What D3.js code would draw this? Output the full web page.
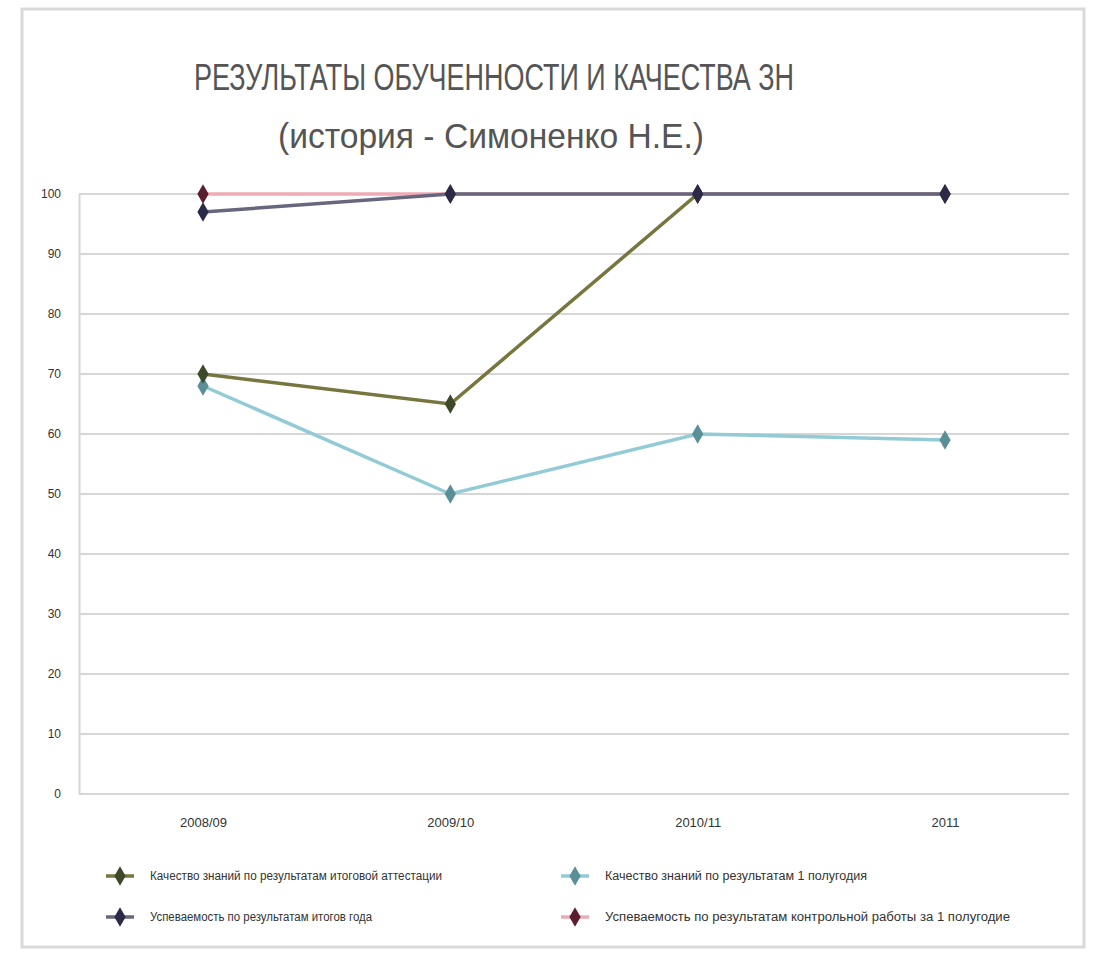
<!DOCTYPE html>
<html><head><meta charset="utf-8">
<script src="https://cdn.jsdelivr.net/npm/d3@7"></script>
<style>body{margin:0;background:#fff}svg{display:block;font-family:"Liberation Sans Narrow","Liberation Sans",Arial,sans-serif}</style>
</head><body>
<script>
const categories = ["2008/09", "2009/10", "2010/11", "2011"];
const yTicks = [0, 10, 20, 30, 40, 50, 60, 70, 80, 90, 100];
const seriesNames = [
  "Качество знаний по результатам итоговой аттестации",
  "Качество знаний по результатам 1 полугодия",
  "Успеваемость по результатам итогов года",
  "Успеваемость по результатам контрольной работы за 1 полугодие"
];
const s1 = [70, 65, 100, 100];
const s2 = [68, 50, 60, 59];
const s3 = [97, 100, 100, 100];
const s4 = [100, 100, 100, 100];
const titleLines = ["РЕЗУЛЬТАТЫ ОБУЧЕННОСТИ И КАЧЕСТВА ЗН", "(история - Симоненко Н.Е.)"];

const W = 1095, H = 956;
const svg = d3.select("body").append("svg").attr("width", W).attr("height", H);
svg.append("rect").attr("x", 22).attr("y", 9).attr("width", 1062).attr("height", 938)
  .attr("fill", "#fff").attr("stroke", "#d9d9d9").attr("stroke-width", 3);

const x = d3.scalePoint().domain(categories).range([203, 945]);
const y = d3.scaleLinear().domain([0, 100]).range([794, 194]);

// gridlines
svg.append("g").selectAll("line").data(yTicks).join("line")
  .attr("x1", 79).attr("x2", 1069)
  .attr("y1", d => y(d)).attr("y2", d => y(d))
  .attr("stroke", "#d6d6d6").attr("stroke-width", 2);

// y axis
const yAxis = svg.append("g").attr("transform", "translate(79,0)")
  .call(d3.axisLeft(y).tickValues(yTicks).tickSize(0).tickPadding(18).tickFormat(d3.format("d")));
yAxis.select(".domain").attr("stroke", "#d6d6d6").attr("stroke-width", 2);
yAxis.selectAll("text").attr("font-size", 12).attr("fill", "#333");

// x axis labels
const xAxis = svg.append("g").attr("transform", "translate(0,794)")
  .call(d3.axisBottom(x).tickSize(0).tickPadding(24));
xAxis.select(".domain").remove();
xAxis.selectAll("text").attr("font-size", 13).attr("fill", "#333");

const series = [
  {name: seriesNames[0], values: s1, line: "#77763e", mark: "#3d4a2a"},
  {name: seriesNames[1], values: s2, line: "#92cbd6", mark: "#5a8f98"},
  {name: seriesNames[2], values: s3, line: "#66667e", mark: "#2b2b48"},
  {name: seriesNames[3], values: s4, line: "#efaab5", mark: "#5a1e2e"}
];
const drawOrder = [1, 0, 3, 2];
const line = d3.line().x((d, i) => x(categories[i])).y(d => y(d));
const diamond = d3.symbol().type(d3.symbolDiamond).size(110);

drawOrder.forEach(k => {
  const s = series[k];
  svg.append("path").datum(s.values).attr("d", line)
    .attr("fill", "none").attr("stroke", s.line).attr("stroke-width", 3.5);
  svg.append("g").selectAll("path").data(s.values).join("path")
    .attr("transform", (d, i) => `translate(${x(categories[i])},${y(d)})`)
    .attr("d", diamond).attr("fill", s.mark);
});

// title
svg.append("text").attr("x", 494).attr("y", 90).attr("text-anchor", "middle")
  .attr("font-size", 37).attr("fill", "#555").attr("textLength", 600).attr("lengthAdjust", "spacingAndGlyphs")
  .text(titleLines[0]);
svg.append("text").attr("x", 491).attr("y", 148).attr("text-anchor", "middle")
  .attr("font-size", 35).attr("fill", "#555").attr("textLength", 426).attr("lengthAdjust", "spacingAndGlyphs")
  .text(titleLines[1]);

// legend
const legPos = [[120, 876], [575, 876], [120, 917], [575, 917]];
const legLen = [292, 262, 222, 405];
series.forEach((s, i) => {
  const [lx, ly] = legPos[i];
  const g = svg.append("g").attr("transform", `translate(${lx},${ly})`);
  g.append("line").attr("x1", -14).attr("x2", 14).attr("stroke", s.line).attr("stroke-width", 3.5);
  g.append("path").attr("d", diamond).attr("fill", s.mark);
  g.append("text").attr("x", 30).attr("y", 4).attr("font-size", 12).attr("fill", "#333")
    .attr("textLength", legLen[i]).attr("lengthAdjust", "spacingAndGlyphs").text(s.name);
});
</script>
</body></html>
